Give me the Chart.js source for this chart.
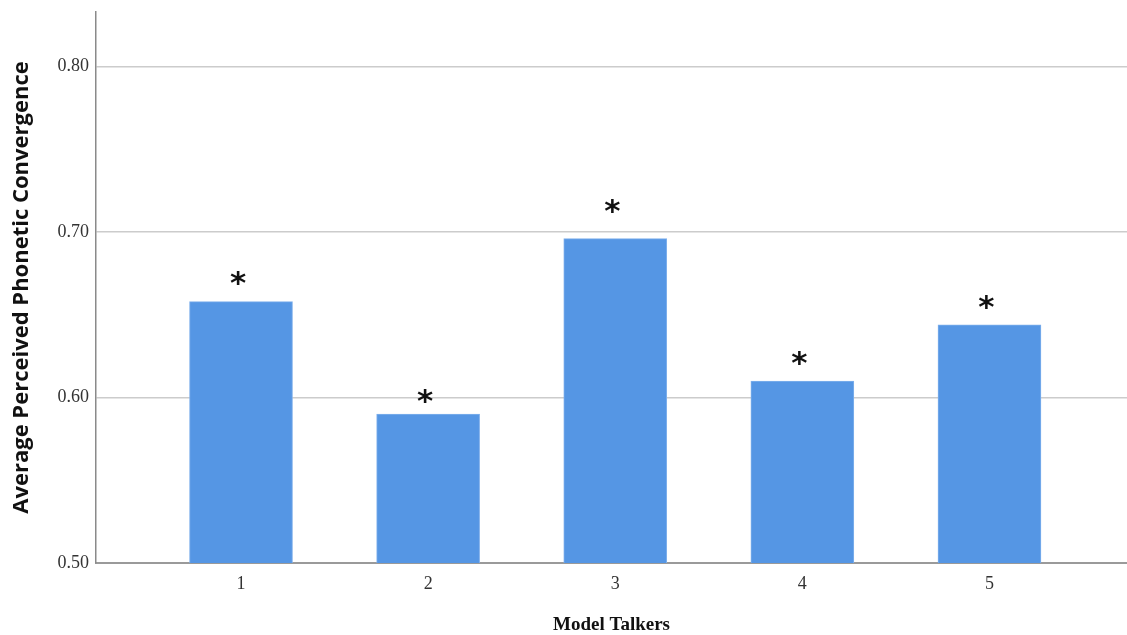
<!DOCTYPE html>
<html>
<head>
<meta charset="utf-8">
<script src="https://cdn.jsdelivr.net/npm/chart.js@4.4.1/dist/chart.umd.min.js"></script>
<style>
  html, body { margin: 0; padding: 0; background: #ffffff; }
  #wrap { width: 1127px; height: 635px; }
</style>
</head>
<body>
<div id="wrap"><canvas id="chart" width="1127" height="635"></canvas></div>
<script>
// Model talkers and their average perceived phonetic convergence
const talkers = ['1', '2', '3', '4', '5'];
const convergence = [0.658, 0.590, 0.696, 0.610, 0.644];
// Height at which each significance asterisk sits
const markerLevels = [0.672, 0.601, 0.716, 0.624, 0.658];
const markerText = ['*', '*', '*', '*', '*'];
const yTicks = [0.50, 0.60, 0.70, 0.80];

const points = talkers.map((t, i) => ({ x: i + 1, y: convergence[i] }));

const asteriskPlugin = {
  id: 'asterisks',
  afterDatasetsDraw(chart) {
    const { ctx, scales } = chart;
    ctx.save();
    ctx.fillStyle = '#111111';
    ctx.font = 'bold 31px "DejaVu Sans"';
    ctx.textAlign = 'center';
    ctx.textBaseline = 'middle';
    markerLevels.forEach((lvl, i) => {
      const x = scales.x.getPixelForValue(i + 1);
      const y = scales.y.getPixelForValue(lvl);
      ctx.fillText(markerText[i], x - 3, y + 7);
    });
    ctx.restore();
  }
};

new Chart(document.getElementById('chart'), {
  type: 'bar',
  data: {
    datasets: [{
      data: points,
      backgroundColor: '#5596e4',
      borderColor: '#7fb0ec',
      borderWidth: 1,
      barThickness: 103
    }]
  },
  options: {
    responsive: false,
    devicePixelRatio: 1,
    animation: false,
    layout: { padding: { top: 12, right: 0, left: 0, bottom: 0 } },
    plugins: {
      legend: { display: false },
      tooltip: { enabled: false }
    },
    scales: {
      x: {
        type: 'linear',
        offset: false,
        min: 0.225,
        max: 5.735,
        afterBuildTicks(scale) {
          scale.ticks = talkers.map((t, i) => ({ value: i + 1 }));
        },
        afterFit(scale) {
          scale.height = 72;
          scale.paddingLeft = 0;
          scale.paddingRight = 0;
        },
        ticks: {
          callback: (v) => talkers[Math.round(v) - 1] ?? '',
          font: { family: '"Liberation Serif"', size: 18 },
          color: '#333333',
          padding: 10,
          maxRotation: 0
        },
        grid: { display: false, drawTicks: false, offset: false },
        border: { display: true, color: '#9a9a9a', width: 2 },
        title: {
          display: true,
          text: 'Model Talkers',
          font: { family: '"Liberation Serif"', size: 19, weight: 'bold', lineHeight: 1 },
          color: '#111111',
          padding: { top: 0, bottom: 0 }
        }
      },
      y: {
        min: 0.5,
        max: 0.833,
        afterBuildTicks(scale) {
          scale.ticks = yTicks.map(v => ({ value: v }));
        },
        afterFit(scale) {
          scale.width = 96;
          scale.paddingTop = 0;
          scale.paddingBottom = 0;
        },
        ticks: {
          callback: (v) => v.toFixed(2),
          font: { family: '"Liberation Serif"', size: 18 },
          color: '#333333',
          padding: 7
        },
        grid: {
          drawTicks: false,
          lineWidth: 1.5,
          color: (c) => (c.tick && c.tick.value === 0.5 ? 'rgba(0,0,0,0)' : '#cccccc')
        },
        border: { display: true, color: '#8a8a8a', width: 1.5 },
        title: {
          display: true,
          text: 'Average Perceived Phonetic Convergence',
          font: { family: '"Open Sans"', size: 22, weight: 'bold', lineHeight: 1.2 },
          color: '#111111',
          padding: { top: 9, bottom: 0 }
        }
      }
    }
  },
  plugins: [asteriskPlugin]
});
</script>
</body>
</html>
